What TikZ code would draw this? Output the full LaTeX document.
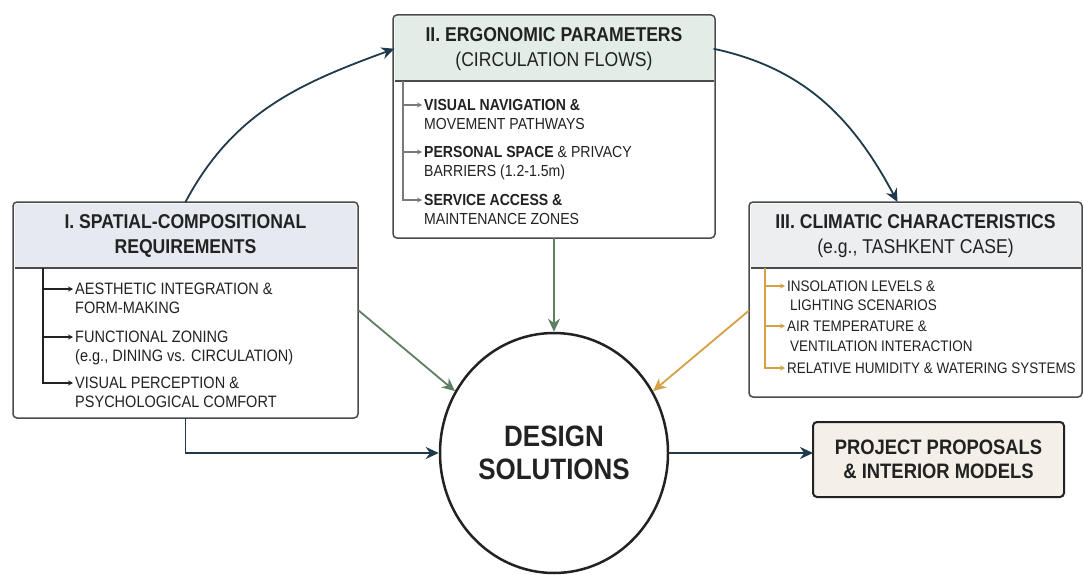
\documentclass[tikz,border=0pt]{standalone}
\usepackage{fontspec}
\setmainfont{Liberation Sans}[FakeStretch=0.88]
\usetikzlibrary{arrows.meta,shapes.geometric,positioning}

\definecolor{inkNavy}{HTML}{1F3A4C}
\definecolor{inkGreen}{HTML}{5F7F63}
\definecolor{inkGold}{HTML}{D6A144}
\definecolor{frameGray}{HTML}{4A4A4A}
\definecolor{bulGray}{HTML}{7A7A7A}
\definecolor{hdBlue}{HTML}{E6EAF0}
\definecolor{hdSage}{HTML}{E3EDE8}
\definecolor{hdGray}{HTML}{ECEEEF}
\definecolor{projFill}{HTML}{F4F0E8}
\definecolor{txtDark}{HTML}{222222}

\begin{document}
\begin{tikzpicture}[x=1pt, y=-1pt,
    panel/.style={draw=frameGray, line width=1.5pt, rounded corners=4pt, fill=white, outer sep=0pt},
    head/.style={rounded corners=2pt, outer sep=0pt, anchor=north, align=center, text=txtDark, font=\fontsize{20}{25}\selectfont},
    item/.style={anchor=west, inner sep=0pt, text height=11pt, text depth=0pt, text=txtDark},
    bul/.style={line width=1.2pt, -{Stealth[length=5pt,width=5pt]}, shorten >=2pt},
    flow/.style={line width=1.8pt, -{Stealth[length=13pt,width=12pt]}}]

    % Canvas
    \fill[white] (0,0) rectangle (1084,575);
    \useasboundingbox (0,0) rectangle (1084,575);

    % Panels
    \node[panel, minimum width=345pt, minimum height=216pt] (spatial) at (185.5,310) {};       % Left
    \node[panel, minimum width=322pt, minimum height=223pt] (erg) at (554,126.5) {};           % Top
    \node[panel, minimum width=333pt, minimum height=195pt] (clim) at (915.5,299.5) {};        % Right

    % Headers
    \node[head, fill=hdBlue, minimum width=342pt, minimum height=64.5pt] (spatialHd) at ([yshift=-1.5pt]spatial.north)
        {\textbf{I. SPATIAL-COMPOSITIONAL}\\\textbf{REQUIREMENTS}};
    \node[head, fill=hdSage, minimum width=319pt, minimum height=64.5pt] (ergHd) at ([yshift=-1.5pt]erg.north)
        {\textbf{II. ERGONOMIC PARAMETERS}\\(CIRCULATION FLOWS)};
    \node[head, fill=hdGray, minimum width=330pt, minimum height=64.5pt] (climHd) at ([yshift=-1.5pt]clim.north)
        {\textbf{III. CLIMATIC CHARACTERISTICS}\\(e.g., TASHKENT CASE)};
    \draw[frameGray, line width=1.5pt] (spatialHd.south west) -- (spatialHd.south east);
    \draw[frameGray, line width=1.5pt] (ergHd.south west) -- (ergHd.south east);
    \draw[frameGray, line width=1.5pt] (climHd.south west) -- (climHd.south east);

    % Items, left panel
    \begin{scope}[every node/.append style={font=\fontsize{16.5}{19}\selectfont}]
    \node[item] (sp1) at (75,289) {AESTHETIC INTEGRATION \&};
    \node[item] (sp1b) at (75,308) {FORM-MAKING};
    \node[item] (sp2) at (75,337) {FUNCTIONAL ZONING};
    \node[item] (sp2b) at (75,356) {(e.g., DINING vs. CIRCULATION)};
    \node[item] (sp3) at (75,383) {VISUAL PERCEPTION \&};
    \node[item] (sp3b) at (75,402) {PSYCHOLOGICAL COMFORT};
    \end{scope}

    % Items, top panel
    \begin{scope}[every node/.append style={font=\fontsize{16}{19}\selectfont}]
    \node[item] (er1) at (424,105) {\textbf{VISUAL NAVIGATION \&}};
    \node[item] (er1b) at (424,124) {MOVEMENT PATHWAYS};
    \node[item] (er2) at (424,152) {\textbf{PERSONAL SPACE} \& PRIVACY};
    \node[item] (er2b) at (424,171) {BARRIERS (1.2-1.5m)};
    \node[item] (er3) at (424,200) {\textbf{SERVICE ACCESS \&}};
    \node[item] (er3b) at (424,219) {MAINTENANCE ZONES};
    \end{scope}

    % Items, right panel
    \begin{scope}[every node/.append style={font=\fontsize{15.3}{19}\selectfont}]
    \node[item] (cl1) at (787,286) {INSOLATION LEVELS \&};
    \node[item] (cl1b) at (790,305) {LIGHTING SCENARIOS};
    \node[item] (cl2) at (787,326) {AIR TEMPERATURE \&};
    \node[item] (cl2b) at (790,346) {VENTILATION INTERACTION};
    \node[item] (cl3) at (787,368) {RELATIVE HUMIDITY \& WATERING SYSTEMS};
    \end{scope}

    % Centre and result
    \node[ellipse, draw=txtDark, line width=2.5pt, fill=white, minimum width=228pt, minimum height=240pt,
        inner sep=0pt, align=center, text=txtDark, font=\bfseries\fontsize{29.5}{33}\selectfont] (ds) at (554,453)
        {DESIGN\\SOLUTIONS};
    \node[panel, draw=txtDark, line width=2pt, fill=projFill, minimum width=251pt, minimum height=75pt,
        align=center, text=txtDark, font=\bfseries\fontsize{20.9}{24}\selectfont] (proj) at (938.5,459.5)
        {PROJECT PROPOSALS\\\& INTERIOR MODELS};

    % Bullet spines
    \coordinate (spTop) at (43,268);
    \coordinate (erTop) at (403,81);
    \coordinate (clTop) at (765,268);
    \draw[bul, txtDark] (spTop) |- (sp1.west);
    \draw[bul, txtDark] (spTop) |- (sp2.west);
    \draw[bul, txtDark] (spTop) |- (sp3.west);
    \draw[bul, bulGray] (erTop) |- (er1.west);
    \draw[bul, bulGray] (erTop) |- (er2.west);
    \draw[bul, bulGray] (erTop) |- (er3.west);
    \draw[bul, inkGold] (clTop) |- (cl1.west);
    \draw[bul, inkGold] (clTop) |- (cl2.west);
    \draw[bul, inkGold] (clTop) |- (cl3.west);

    % Edges
    \draw[flow, inkNavy] (spatial.north) to[out=62, in=200] (ergHd.west);
    \draw[flow, inkNavy] (ergHd.east) to[out=-12, in=118] ([xshift=-18pt]clim.north);
    \draw[flow, inkGreen] (erg.south) -- (ds.north);
    \draw[flow, inkGreen] (spatial.east) -- (ds.148);
    \draw[flow, inkGold] ([yshift=-11pt]clim.west) -- (ds.32);
    \draw[flow, inkNavy] (spatial.south) |- (ds.west);
    \draw[flow, inkNavy] (ds.east) -- (ds.east -| proj.west);
\end{tikzpicture}
\end{document}
